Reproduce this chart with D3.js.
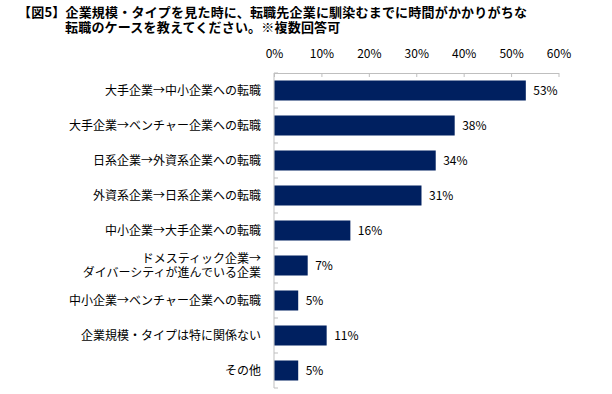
<!DOCTYPE html>
<html>
<head>
<meta charset="utf-8">
<script src="https://cdn.jsdelivr.net/npm/d3@7"></script>
<style>
  body { margin: 0; background: #fff; }
  text { font-family: "Noto Sans CJK JP", "Noto Sans", sans-serif; fill: #000; }
</style>
</head>
<body>
<svg></svg>
<script>
const titleLines = [
  '【図5】企業規模・タイプを見た時に、転職先企業に馴染むまでに時間がかかりがちな',
  '転職のケースを教えてください。※複数回答可'
];
const categories = [
  '大手企業→中小企業への転職',
  '大手企業→ベンチャー企業への転職',
  '日系企業→外資系企業への転職',
  '外資系企業→日系企業への転職',
  '中小企業→大手企業への転職',
  'ドメスティック企業→\nダイバーシティが進んでいる企業',
  '中小企業→ベンチャー企業への転職',
  '企業規模・タイプは特に関係ない',
  'その他'
];
const values = [53, 38, 34, 31, 16, 7, 5, 11, 5];
const xTicks = [0, 10, 20, 30, 40, 50, 60];

const width = 612;
const height = 394;
const plotLeft = 274;
const plotRight = 558.5;
const plotTop = 73;
const plotBottom = 388;
const barColor = '#002060';
const axisColor = '#BFBFBF';

const svg = d3.select('svg')
    .attr('width', width)
    .attr('height', height);

// title
svg.append('text')
    .attr('x', 18)
    .attr('y', 17)
    .attr('font-size', 13)
    .attr('font-weight', 'bold')
    .attr('letter-spacing', 0.2)
    .text(titleLines[0]);
svg.append('text')
    .attr('x', 65)
    .attr('y', 32)
    .attr('font-size', 13)
    .attr('font-weight', 'bold')
    .attr('letter-spacing', 0.2)
    .text(titleLines[1]);

const x = d3.scaleLinear()
    .domain([0, 60])
    .range([plotLeft, plotRight]);

const y = d3.scaleBand()
    .domain(categories)
    .range([plotTop, plotBottom])
    .paddingInner(15 / 35)
    .paddingOuter(7.5 / 35);

// top axis
const xAxis = svg.append('g')
    .attr('transform', `translate(0,${plotTop})`)
    .call(d3.axisTop(x)
      .tickValues(xTicks)
      .tickFormat(d => d + '%')
      .tickSizeInner(-4)
      .tickSizeOuter(0)
      .tickPadding(15));
xAxis.selectAll('path, line').attr('stroke', axisColor);
xAxis.selectAll('text')
    .attr('font-size', 12)
    .attr('font-family', '"Noto Sans CJK JP", sans-serif')
    .attr('fill', '#000');

// vertical axis line with category boundary ticks
svg.append('line')
    .attr('x1', plotLeft).attr('x2', plotLeft)
    .attr('y1', plotTop).attr('y2', plotBottom)
    .attr('stroke', axisColor);
const step = y.step();
svg.selectAll('.ytick')
  .data(d3.range(categories.length + 1))
  .join('line')
    .attr('class', 'ytick')
    .attr('x1', plotLeft).attr('x2', plotLeft + 4)
    .attr('y1', i => plotTop + i * step)
    .attr('y2', i => plotTop + i * step)
    .attr('stroke', axisColor);

// bars
svg.selectAll('.bar')
  .data(values)
  .join('rect')
    .attr('class', 'bar')
    .attr('x', x(0) + 0.5)
    .attr('y', (d, i) => y(categories[i]))
    .attr('width', d => x(d) - x(0))
    .attr('height', y.bandwidth())
    .attr('fill', barColor);

// value labels
svg.selectAll('.val')
  .data(values)
  .join('text')
    .attr('class', 'val')
    .attr('x', d => x(d) + 8)
    .attr('y', (d, i) => y(categories[i]) + y.bandwidth() / 2)
    .attr('dy', '0.35em')
    .attr('font-size', 12)
    .text(d => d + '%');

// category labels
const labels = svg.selectAll('.cat')
  .data(categories)
  .join('text')
    .attr('class', 'cat')
    .attr('text-anchor', 'end')
    .attr('font-size', 12)
    .attr('y', d => y(d) + y.bandwidth() / 2);

labels.each(function(d) {
  const lines = d.split('\n');
  const t = d3.select(this);
  lines.forEach((s, k) => {
    t.append('tspan')
        .attr('x', 261)
        .attr('dy', k === 0 ? (0.35 - (lines.length - 1) * 0.6) + 'em' : '1.2em')
        .text(s);
  });
});
</script>
</body>
</html>
